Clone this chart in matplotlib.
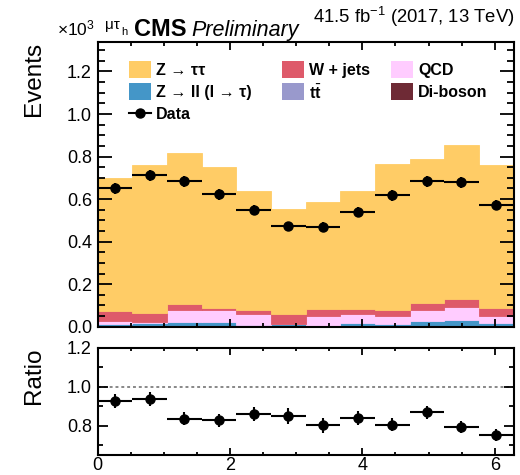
import numpy as np
import matplotlib
matplotlib.use("Agg")
import matplotlib.pyplot as plt
from matplotlib.patches import Rectangle
from matplotlib.lines import Line2D
from matplotlib.ticker import MultipleLocator

plt.rcParams['font.family'] = ['Liberation Sans', 'DejaVu Sans']
plt.rcParams['mathtext.fontset'] = 'custom'
plt.rcParams['mathtext.rm'] = 'Liberation Sans'
plt.rcParams['mathtext.it'] = 'Liberation Sans:italic'
plt.rcParams['mathtext.bf'] = 'Liberation Sans:bold'

# ---- binning: 12 bins over [0, 2pi] ----
n_bins = 12
edges = np.linspace(0, 2 * np.pi, n_bins + 1)

# ---- background yields (x 10^3 events) ----
diboson = [0.001, 0.001, 0.001, 0.001, 0.001, 0.001, 0.001, 0.001, 0.001, 0.001, 0.001, 0.001]
ttbar   = [0.002, 0.002, 0.002, 0.002, 0.002, 0.002, 0.002, 0.002, 0.002, 0.002, 0.002, 0.002]
zll     = [0.008, 0.013, 0.021, 0.017, 0.004, 0.009, 0.002, 0.016, 0.010, 0.025, 0.030, 0.014]
qcd     = [0.017, 0.006, 0.053, 0.059, 0.053, 0.003, 0.047, 0.042, 0.039, 0.052, 0.058, 0.032]
wjets   = [0.046, 0.042, 0.030, 0.010, 0.019, 0.045, 0.030, 0.024, 0.027, 0.030, 0.041, 0.040]
ztt     = [0.627, 0.694, 0.709, 0.664, 0.558, 0.495, 0.505, 0.554, 0.688, 0.678, 0.723, 0.673]

# ---- observed data (x 10^3 events) ----
data     = [0.650, 0.711, 0.683, 0.623, 0.548, 0.472, 0.471, 0.538, 0.618, 0.684, 0.680, 0.573]
data_err = [0.025, 0.027, 0.026, 0.025, 0.023, 0.022, 0.022, 0.023, 0.025, 0.026, 0.026, 0.024]

# stacking order bottom -> top
stack = [
    (diboson, '#6e2a35', 'Di-boson'),
    (ttbar,   '#9999cc', r'$\mathbf{t}\bar{\mathbf{t}}$'),
    (zll,     '#4496c8', 'Z \u2192 ll (l \u2192 \u03c4)'),
    (qcd,     '#ffccff', 'QCD'),
    (wjets,   '#de5a6a', 'W + jets'),
    (ztt,     '#ffcc66', 'Z \u2192 \u03c4\u03c4'),
]

W, H = 520, 475
fig = plt.figure(figsize=(W / 100, H / 100), dpi=100)


def fx(p):
    return p / W


def fy(p):
    return 1 - p / H


ax = fig.add_axes([fx(97.5), fy(326.7), fx(513.5) - fx(97.5), fy(41.7) - fy(326.7)])
axr = fig.add_axes([fx(97.5), fy(455), fx(513.5) - fx(97.5), fy(347.7) - fy(455)])

widths = np.diff(edges)
centers = 0.5 * (edges[:-1] + edges[1:])
bottom = np.zeros(n_bins)
for vals, col, lab in stack:
    v = np.asarray(vals)
    ax.bar(edges[:-1], v, width=widths, bottom=bottom, align='edge',
           color=col, edgecolor=col, linewidth=0.6)
    bottom = bottom + v
total = bottom

ax.errorbar(centers, data, yerr=data_err, xerr=widths / 2, fmt='o', color='black',
            ms=6.5, elinewidth=1.5, capsize=0, zorder=5)

ratio = np.asarray(data) / total
ratio_err = np.asarray(data_err) / total
axr.errorbar(centers, ratio, yerr=ratio_err, xerr=widths / 2, fmt='o', color='black',
             ms=6.5, elinewidth=1.5, capsize=0, zorder=5)
axr.axhline(1.0, color='#888888', ls=(0, (1.5, 1.5)), lw=1.4, zorder=1)

# ---- axes styling ----
for a in (ax, axr):
    a.set_xlim(0, 2 * np.pi)
    for s in a.spines.values():
        s.set_linewidth(1.5)
    a.xaxis.set_major_locator(MultipleLocator(2))
    a.xaxis.set_minor_locator(MultipleLocator(0.5))
    a.tick_params(which='both', direction='in', top=True, right=True, labelsize=13,
                  width=1.3, pad=4)

ax.set_ylim(0, 1.34)
ax.yaxis.set_major_locator(MultipleLocator(0.2))
ax.yaxis.set_minor_locator(MultipleLocator(0.05))
ax.yaxis.set_major_formatter(plt.FuncFormatter(lambda v, p: f'{v:.1f}'))
ax.tick_params(axis='y', which='major', length=10)
ax.tick_params(axis='y', which='minor', length=5)
ax.tick_params(axis='x', which='major', length=6)
ax.tick_params(axis='x', which='minor', length=3)
ax.tick_params(axis='x', labelbottom=False)

axr.set_ylim(0.65, 1.2)
axr.yaxis.set_major_locator(MultipleLocator(0.2))
axr.yaxis.set_minor_locator(MultipleLocator(0.1))
axr.yaxis.set_major_formatter(plt.FuncFormatter(lambda v, p: f'{v:.1f}'))
axr.tick_params(axis='y', which='major', length=7)
axr.tick_params(axis='y', which='minor', length=3.5)
axr.tick_params(axis='x', which='major', length=5, pad=1.5)
axr.tick_params(axis='x', which='minor', length=2.5)

ax.set_ylabel('Events', fontsize=17.5, loc='top', labelpad=16)
axr.set_ylabel('Ratio', fontsize=17.5, loc='top', labelpad=16)

# ---- header texts ----
fig.text(fx(57), fy(35), r'$\times$10$^{3}$', fontsize=12.5, va='baseline')
fig.text(fx(105), fy(29), '\u03bc\u03c4', fontsize=11, va='baseline')
fig.text(fx(121), fy(35), 'h', fontsize=8, va='baseline')
fig.text(fx(134), fy(36), 'CMS', fontsize=17, fontweight='bold', va='baseline')
fig.text(fx(191), fy(36), 'Preliminary', fontsize=15.5, fontstyle='italic', va='baseline')
fig.text(fx(514), fy(23), r'41.5 fb$^{-1}$ (2017, 13 TeV)', fontsize=13.3, ha='right',
         va='baseline')

# ---- legend ----
leg_rows = [69, 91, 113]
leg_cols = [129, 282, 391]
leg_entries = [
    (0, 0, stack[5]), (0, 1, stack[4]), (0, 2, stack[3]),
    (1, 0, stack[2]), (1, 1, stack[1]), (1, 2, stack[0]),
]
bw, bh = 22, 17
for r, c, (vals, col, lab) in leg_entries:
    x0, yc = leg_cols[c], leg_rows[r]
    fig.add_artist(Rectangle((fx(x0), fy(yc + bh / 2)), bw / W, bh / H,
                             transform=fig.transFigure, facecolor=col, edgecolor='none'))
    fig.text(fx(x0 + bw + 5), fy(yc), lab, fontsize=11.5, fontweight='bold',
             va='center_baseline', ha='left')

xd, yd = leg_cols[0], leg_rows[2]
fig.add_artist(Line2D([fx(xd), fx(xd + bw)], [fy(yd), fy(yd)], transform=fig.transFigure,
                      color='black', lw=1.5))
fig.add_artist(Line2D([fx(xd + bw / 2)], [fy(yd)], transform=fig.transFigure,
                      marker='o', color='black', ms=6.5))
fig.text(fx(xd + bw + 5), fy(yd), 'Data', fontsize=11.5, fontweight='bold',
         va='center_baseline', ha='left')

fig.savefig('out.png', dpi=100)
